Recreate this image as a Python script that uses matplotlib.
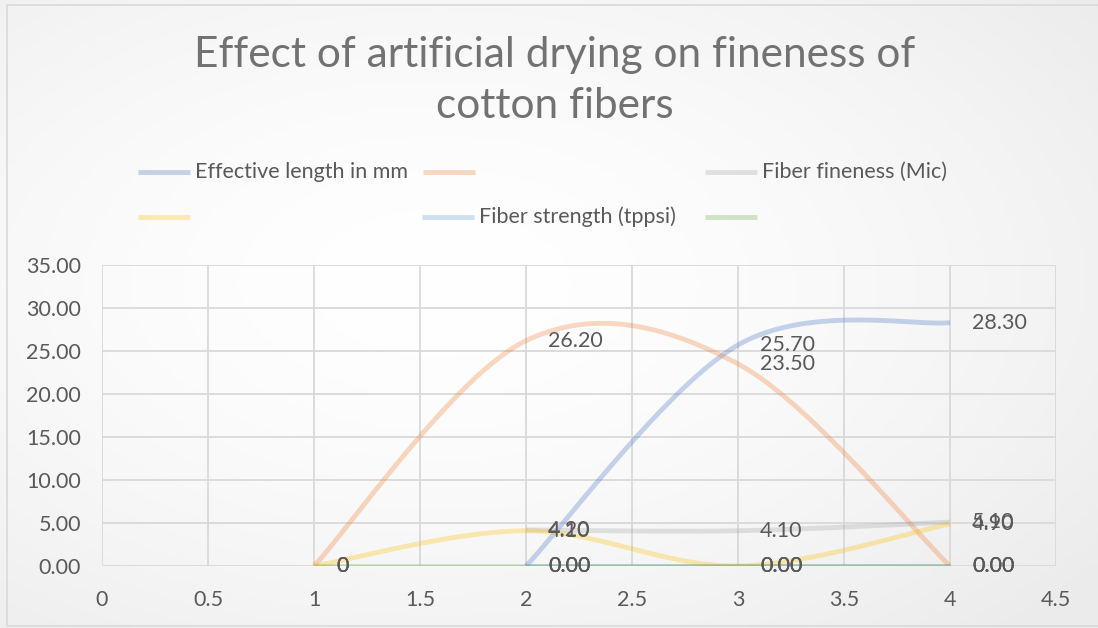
import matplotlib.pyplot as plt
import numpy as np
from matplotlib.lines import Line2D

plt.rcParams['font.family'] = ['Lato', 'DejaVu Sans']

# --- data ---
len_x = [2, 3, 4]
len_y = [0.00, 25.70, 28.30]
s2_x = [1, 2, 3, 4]
s2_y = [0, 26.20, 23.50, 0.00]
fine_x = [2, 3, 4]
fine_y = [4.20, 4.10, 5.10]
s4_x = [1, 2, 3, 4]
s4_y = [0, 4.10, 0.00, 4.90]
str_x = [2, 3, 4]
str_y = [0.00, 0.00, 0.00]
s6_x = [1, 2, 3, 4]
s6_y = [0, 0.00, 0.00, 0.00]

names = ['Effective length in mm', '', 'Fiber fineness (Mic)', '', 'Fiber strength (tppsi)', '']
colors = ['#4472C4', '#ED7D31', '#A5A5A5', '#FFC000', '#5B9BD5', '#70AD47']
series = [(len_x, len_y), (s2_x, s2_y), (fine_x, fine_y), (s4_x, s4_y), (str_x, str_y), (s6_x, s6_y)]

TXT = '#595959'
FS = 15.5
ALPHA = 0.3


def smooth(x, y, n=40):
    # excel-like smoothed line (catmull-rom through the points)
    p = np.column_stack([x, y]).astype(float)
    p = np.vstack([p[0], p, p[-1]])
    out = []
    for i in range(1, len(p) - 2):
        p0, p1, p2, p3 = p[i - 1], p[i], p[i + 1], p[i + 2]
        c1 = p1 + (p2 - p0) / 6
        c2 = p2 - (p3 - p1) / 6
        t = np.linspace(0, 1, n)[:, None]
        seg = (1 - t) ** 3 * p1 + 3 * (1 - t) ** 2 * t * c1 + 3 * (1 - t) * t ** 2 * c2 + t ** 3 * p2
        out.append(seg)
    out = np.vstack(out)
    return out[:, 0], out[:, 1]


fig = plt.figure(figsize=(10.98, 6.28), dpi=100, facecolor='white')

# soft radial background like the Excel chart style
bg = fig.add_axes([0, 0, 1, 1], zorder=-10)
gx, gy = np.meshgrid(np.linspace(0, 1, 300), np.linspace(0, 1, 200))
r = np.sqrt((gx - 0.4) ** 2 + (gy - 0.55) ** 2)
shade = 1 - 0.075 * np.clip(r / 0.75, 0, 1) ** 1.6
bg.imshow(np.dstack([shade] * 3), extent=[0, 1, 0, 1], aspect='auto', origin='lower')
bg.axis('off')

fig.patches.append(plt.Rectangle((0.006, 0.003), 1.2, 0.989, transform=fig.transFigure,
                                 fill=False, ec='#d9d9d9', lw=1.2))

ax = fig.add_axes([102 / 1098, 62 / 628, 954 / 1098, 301 / 628])
ax.set_facecolor('none')

for (x, y), c in zip(series, colors):
    sx, sy = smooth(x, y)
    ax.plot(sx, sy, color=c, lw=3.5, alpha=ALPHA, solid_capstyle='butt', zorder=3)

# data labels (right of point)
for (x, y), c in zip(series, colors):
    for xv, yv in zip(x, y):
        lab = '0' if xv == 1 else f'{yv:.2f}'
        ax.annotate(lab, (xv, yv), xytext=(16, 0), textcoords='offset points',
                    ha='left', va='center', fontsize=FS, color=TXT, zorder=5,
                    annotation_clip=False)

ax.set_xlim(0, 4.5)
ax.set_ylim(0, 35)
ax.set_xticks(np.arange(0, 4.51, 0.5))
ax.set_xticklabels(['0', '0.5', '1', '1.5', '2', '2.5', '3', '3.5', '4', '4.5'])
ax.set_yticks(np.arange(0, 35.01, 5))
ax.set_yticklabels([f'{v:.2f}' for v in np.arange(0, 35.01, 5)])
ax.grid(True, color='#d9d9d9', lw=1.3)
ax.tick_params(length=0, labelsize=FS, labelcolor=TXT)
ax.tick_params(axis='x', pad=17)
ax.tick_params(axis='y', pad=15)
for s in ax.spines.values():
    s.set_visible(False)

fig.text(0.505, 0.912, 'Effect of artificial drying on fineness of', ha='center', va='center',
         fontsize=30.5, color='#727272')
fig.text(0.505, 0.832, 'cotton fibers', ha='center', va='center', fontsize=30.5, color='#727272')

# legend, laid out in Excel's three equal columns
leg_pos = [(138, 172), (423, 172), (705, 172), (138, 217), (422, 217), (705, 217)]
for (px, py), c, nm in zip(leg_pos, colors, names):
    fy = 1 - py / 628
    fig.add_artist(Line2D([px / 1098, (px + 52) / 1098], [fy, fy], color=c, lw=3.5, alpha=ALPHA,
                          transform=fig.transFigure, solid_capstyle='butt'))
    if nm:
        fig.text((px + 57) / 1098, fy, nm, ha='left', va='center', fontsize=FS, color=TXT)

fig.savefig('out.png', dpi=100)
